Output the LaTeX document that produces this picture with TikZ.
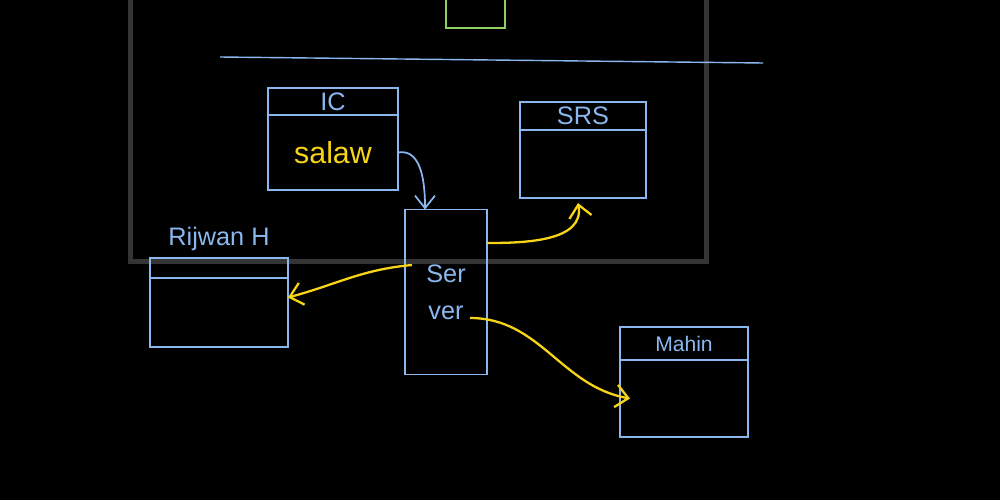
\documentclass[tikz,border=0pt]{standalone}
\usepackage{fontspec}
\setmainfont{Liberation Sans}
\usepackage{xcolor}
\definecolor{inkBlue}{HTML}{8ab8ee}
\definecolor{inkYellow}{HTML}{f7d417}
\definecolor{inkGreen}{HTML}{8fcf62}
\definecolor{frameGray}{HTML}{343434}
\usepackage{tikz}
\usetikzlibrary{positioning,arrows.meta}
\tikzset{every node/.style={inner sep=1pt, outer sep=0pt}}
\tikzset{box head/.style={draw=inkBlue, line width=1pt, text=inkBlue, font=\Large}}
\tikzset{box body/.style={draw=inkBlue, line width=1pt}}
\tikzset{blue link/.style={draw=inkBlue, line width=1pt, -{Straight Barb[length=2.5mm,width=4mm]}}}
\tikzset{yellow link/.style={draw=inkYellow, line width=1.3pt, -{Straight Barb[length=2.5mm,width=4.5mm]}}}

\begin{document}
\begin{tikzpicture}[x=0.02cm, y=-0.02cm]
\fill[black] (0,0) rectangle (1000,500);
\useasboundingbox (0,0) rectangle (1000,500);

%--------------------
% board frame
%--------------------
\draw[frameGray, line width=0.1cm] (130,-10) rectangle (706,261);
\draw[inkGreen, line width=0.8pt] (446,-5) rectangle (505,28);
\draw[inkBlue, line width=0.8pt] (220,57) -- (763,63);

%--------------------
% IC
%--------------------
\node[box head, minimum width=2.6cm, minimum height=0.54cm](ichead) at (333,101.5){IC};
\node[box body, minimum width=2.6cm, minimum height=1.5cm, below=0pt of ichead, font=\LARGE, text=inkYellow](ic){salaw};

%--------------------
% SRS
%--------------------
\node[box head, minimum width=2.52cm, minimum height=0.56cm](srshead) at (583,116){SRS};
\node[box body, minimum width=2.52cm, minimum height=1.36cm, below=0pt of srshead](srs){};

%--------------------
% server
%--------------------
\node[box body, minimum width=1.64cm, minimum height=3.3cm, text=inkBlue, font=\Large, align=center](server) at (446,292){Ser\\[3pt]ver};

%--------------------
% Rijwan
%--------------------
\node[box head, minimum width=2.76cm, minimum height=0.4cm](rijwanhead) at (219,268){};
\node[box body, minimum width=2.76cm, minimum height=1.38cm, below=0pt of rijwanhead](rijwan){};
\node[text=inkBlue, font=\Large, above=3pt of rijwanhead](rijwanname){Rijwan H};

%--------------------
% Mahin
%--------------------
\node[box head, minimum width=2.56cm, minimum height=0.66cm, font=\large](mahinhead) at (684,343.5){Mahin};
\node[box body, minimum width=2.56cm, minimum height=1.54cm, below=0pt of mahinhead](mahin){};

%--------------------
% links
%--------------------
\draw[blue link] (ic.east) to[out=10, in=90] ([xshift=-0.42cm]server.north);
\draw[yellow link] ([yshift=0.98cm]server.east) to[out=0, in=-80] ([xshift=-0.1cm, yshift=-0.1cm]srs.south);
\draw[yellow link] ([xshift=0.14cm, yshift=0.54cm]server.west) to[out=185, in=15] ([yshift=0.3cm]rijwan.east);
\draw[yellow link] ([xshift=-0.34cm, yshift=-0.52cm]server.east) to[out=0, in=170] ([xshift=0.2cm]mahin.west);
\end{tikzpicture}
\end{document}
